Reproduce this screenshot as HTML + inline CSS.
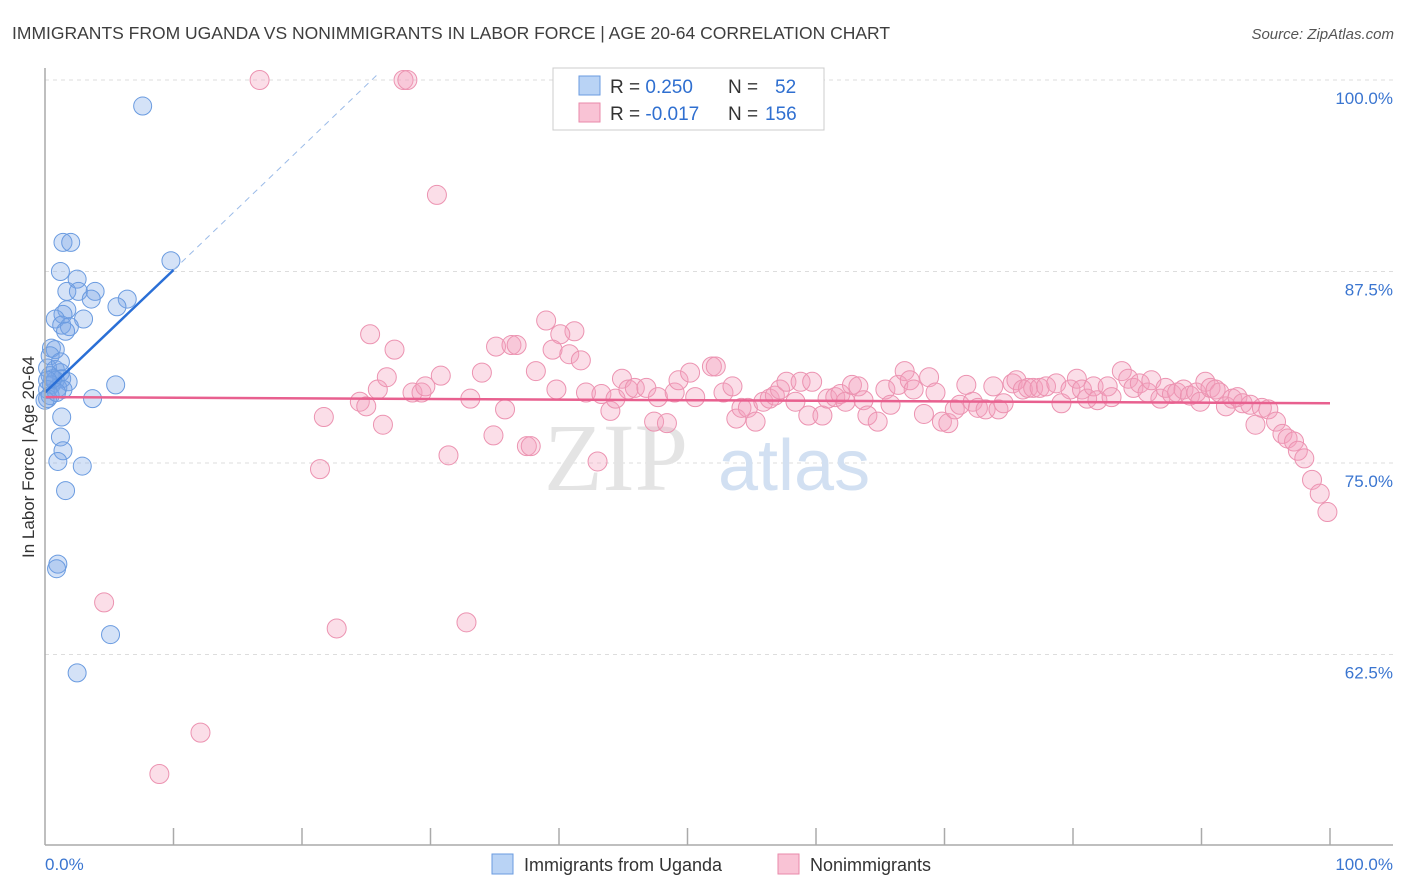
<!DOCTYPE html>
<html><head><meta charset="utf-8"><style>
body{margin:0;background:#fff;font-family:"Liberation Sans",sans-serif;}
svg{display:block}
</style></head><body>
<svg id="chart" width="1406" height="892">
<text x="12" y="39" font-size="17.5" fill="#3e3e3e">IMMIGRANTS FROM UGANDA VS NONIMMIGRANTS IN LABOR FORCE | AGE 20-64 CORRELATION CHART</text>
<text x="1394" y="39" font-size="15" fill="#555" font-style="italic" text-anchor="end">Source: ZipAtlas.com</text>
<g id="grid"></g>
<text x="688" y="490" font-size="96" fill="#e4e4e4" text-anchor="end" font-family="Liberation Serif,serif">ZIP</text>
<text x="718" y="490" font-size="72" fill="#d2e0f2">atlas</text>
<g id="pts"></g>
<g id="trend"></g>
<line x1="45" y1="68" x2="45" y2="845" stroke="#aaa" stroke-width="1.5"/>
<line x1="45" y1="845" x2="1393" y2="845" stroke="#aaa" stroke-width="1.5"/>
<g id="xticks"></g>
<text x="45" y="870" font-size="17" fill="#3a75d0">0.0%</text>
<text x="1393" y="870" font-size="17" fill="#3a75d0" text-anchor="end">100.0%</text>
<text transform="translate(34,457) rotate(-90)" font-size="17" fill="#333" text-anchor="middle">In Labor Force | Age 20-64</text>
<g>
<rect x="553" y="68" width="271" height="62" fill="#fff" stroke="#ccc"/>
<rect x="579" y="76" width="21" height="19" fill="#b9d3f5" stroke="#6a9be0"/>
<rect x="579" y="103" width="21" height="19" fill="#f9c3d5" stroke="#e98aaa"/>
<text x="610" y="93" font-size="19" fill="#333">R = <tspan fill="#2f6fd0"> 0.250</tspan><tspan x="728">N = </tspan><tspan fill="#2f6fd0" x="775">52</tspan></text>
<text x="610" y="120" font-size="19" fill="#333">R = <tspan fill="#2f6fd0">-0.017</tspan><tspan x="728">N = </tspan><tspan fill="#2f6fd0" x="765">156</tspan></text>
</g>
<g>
<rect x="492" y="854" width="21" height="20" fill="#b9d3f5" stroke="#6a9be0"/>
<text x="524" y="871" font-size="18" fill="#333">Immigrants from Uganda</text>
<rect x="778" y="854" width="21" height="20" fill="#f9c3d5" stroke="#e98aaa"/>
<text x="810" y="871" font-size="18" fill="#333">Nonimmigrants</text>
</g>
</svg>
<script>
const yTicks=[100,87.5,75,62.5];
const yTickLabels=["100.0%","87.5%","75.0%","62.5%"];
const xTicks=[10,20,30,40,50,60,70,80,90,100];
const blueX=[7.6,1.4,2.0,1.2,2.5,9.8,1.7,2.6,3.9,3.6,6.4,5.6,1.7,1.4,0.8,3.0,1.3,1.9,1.6,0.5,0.8,0.4,0.2,0.8,1.2,0.4,1.3,0.8,1.8,0.5,1.0,0.2,1.4,5.5,3.7,0.2,1.3,1.2,1.4,1.0,2.9,1.6,1.0,0.9,5.1,2.5,0.4,0.6,0.0,0.9,0.2,1.2];
const blueY=[98.3,89.4,89.4,87.5,87.0,88.2,86.2,86.2,86.2,85.7,85.7,85.2,85.0,84.7,84.4,84.4,84.0,83.9,83.6,82.5,82.4,82.0,81.2,81.1,80.9,80.7,80.5,80.4,80.3,80.1,79.9,79.8,79.8,80.1,79.2,79.2,78.0,76.7,75.8,75.1,74.8,73.2,68.4,68.1,63.8,61.3,79.4,80.5,79.1,79.6,80.4,81.6];
const pinkX=[16.7,27.9,28.2,30.5,12.1,8.9,4.6,22.7,32.8,21.4,31.4,43.0,25.3,27.2,39.0,41.2,40.1,35.1,36.3,36.7,39.5,40.8,41.7,21.7,26.3,24.5,25.0,25.9,26.6,28.6,29.3,29.6,30.8,33.1,34.0,34.9,35.8,37.5,37.8,38.2,39.8,42.1,43.3,44.0,44.4,44.9,45.4,45.9,46.8,47.4,47.7,48.4,49.0,49.3,50.2,50.6,51.9,52.2,52.8,53.5,53.8,54.2,54.7,55.3,55.9,56.4,56.8,57.2,57.7,58.4,58.8,59.7,59.4,60.5,60.9,61.5,61.9,62.3,62.8,63.3,63.7,64.0,64.8,65.4,65.8,66.4,66.9,67.3,67.6,68.4,68.8,69.3,69.8,70.3,70.8,71.2,71.7,72.2,72.6,73.2,73.8,74.2,74.6,75.3,75.6,76.1,76.5,76.9,77.4,77.9,78.7,79.1,79.8,80.3,80.7,81.1,81.6,81.9,82.7,83.0,83.8,84.3,84.7,85.2,85.8,86.1,86.8,87.2,87.7,88.1,88.6,89.1,89.6,89.9,90.3,90.7,91.1,91.4,91.9,92.4,92.8,93.2,93.8,94.2,94.7,95.2,95.8,96.3,96.7,97.2,97.5,98.0,98.6,99.2,99.8];
const pinkY=[100,100,100,92.5,57.4,54.7,65.9,64.2,64.6,74.6,75.5,75.1,83.4,82.4,84.3,83.6,83.4,82.6,82.7,82.7,82.4,82.1,81.7,78.0,77.5,79.0,78.7,79.8,80.6,79.6,79.6,80.0,80.7,79.2,80.9,76.8,78.5,76.1,76.1,81.0,79.8,79.6,79.5,78.4,79.2,80.5,79.8,79.9,79.9,77.7,79.3,77.6,79.6,80.4,80.9,79.3,81.3,81.3,79.6,80.0,77.9,78.6,78.6,77.7,79.0,79.2,79.4,79.8,80.3,79.0,80.3,80.3,78.1,78.1,79.2,79.3,79.5,79.0,80.1,80.0,79.1,78.1,77.7,79.8,78.8,80.1,81.0,80.4,79.8,78.2,80.6,79.6,77.7,77.6,78.5,78.8,80.1,79.0,78.6,78.5,80.0,78.5,78.9,80.2,80.4,79.8,79.9,79.9,79.9,80.0,80.2,78.9,79.8,80.5,79.8,79.2,80.0,79.1,80.0,79.3,81.0,80.5,79.9,80.2,79.6,80.4,79.2,79.9,79.5,79.6,79.8,79.4,79.6,79.0,80.3,79.9,79.8,79.6,78.7,79.2,79.3,78.9,78.8,77.5,78.6,78.5,77.7,76.9,76.6,76.4,75.8,75.3,73.9,73.0,71.8];
const blueTrend=[[0,79.6],[10,87.6]];
const blueDash=[[10,87.6],[25.8,100.3]];
const pinkTrend=[[0,79.3],[100,78.9]];
const NS="http://www.w3.org/2000/svg";
const X=v=>45+v*12.85;
const Y=v=>80+(100-v)*15.32;
function mk(tag,attrs,parent){const e=document.createElementNS(NS,tag);for(const k in attrs)e.setAttribute(k,attrs[k]);parent.appendChild(e);return e;}
const grid=document.getElementById('grid');
yTicks.forEach((t,i)=>{
  const l=mk('line',{x1:45,x2:1393,y1:Y(t),y2:Y(t),stroke:'#ddd','stroke-dasharray':'4,4'},grid);
  
  
  const tx=mk('text',{x:1393,y:Y(t)+24,'font-size':17,fill:'#3a75d0','text-anchor':'end'},grid);
  tx.textContent=yTickLabels[i];
  
  
});
const xt=document.getElementById('xticks');
xTicks.forEach(t=>{
  const l=mk('line',{x1:X(t),x2:X(t),y1:828,y2:845,stroke:'#aaa','stroke-width':1.5},xt);
  
  
});
const pts=document.getElementById('pts');
pinkX.forEach((x,i)=>{
  const c=mk('circle',{cx:X(x),cy:Y(pinkY[i]),r:9.5,fill:'rgba(244,160,190,0.35)',stroke:'#ec93b1','stroke-width':1},pts);
  
  
});
blueX.forEach((x,i)=>{
  const c=mk('circle',{cx:X(x),cy:Y(blueY[i]),r:9,fill:'rgba(120,165,230,0.32)',stroke:'#6a9be0','stroke-width':1},pts);
  
  
});
const tr=document.getElementById('trend');
let l1=mk('line',{x1:X(blueTrend[0][0]),y1:Y(blueTrend[0][1]),x2:X(blueTrend[1][0]),y2:Y(blueTrend[1][1]),stroke:'#2a6fd6','stroke-width':2.5},tr);


let l2=mk('line',{x1:X(blueDash[0][0]),y1:Y(blueDash[0][1]),x2:X(blueDash[1][0]),y2:Y(blueDash[1][1]),stroke:'#9bbbe8','stroke-width':1,'stroke-dasharray':'6,5'},tr);


let l3=mk('line',{x1:X(pinkTrend[0][0]),y1:Y(pinkTrend[0][1]),x2:X(pinkTrend[1][0]),y2:Y(pinkTrend[1][1]),stroke:'#e8608f','stroke-width':2.5},tr);


</script>
</body></html>
